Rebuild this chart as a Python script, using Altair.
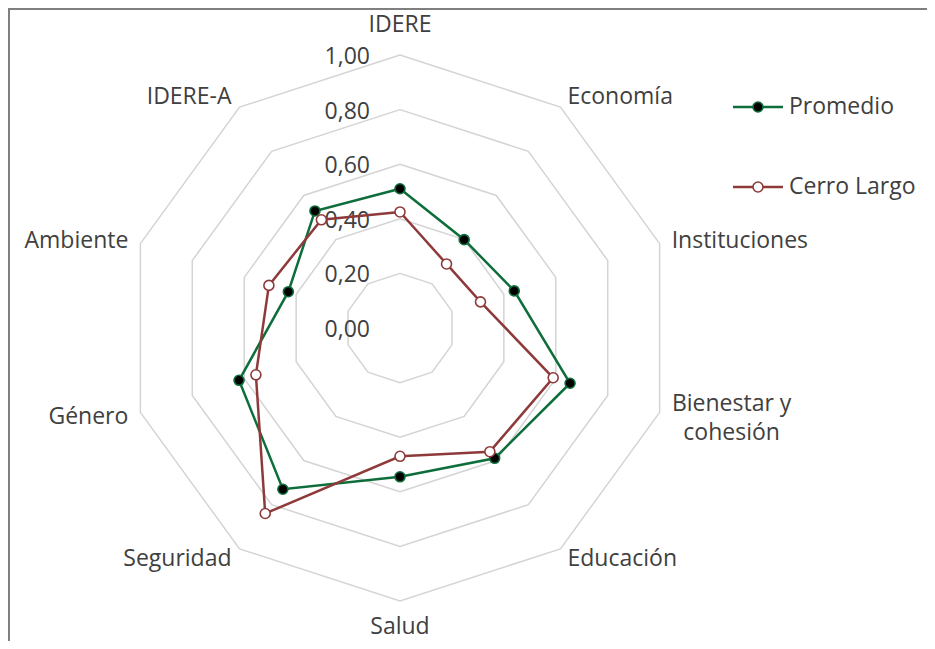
import math
import altair as alt
import pandas as pd

# ---------------- data ----------------
categories = ["IDERE", "Economía", "Instituciones", "Bienestar y\ncohesión", "Educación",
              "Salud", "Seguridad", "Género", "Ambiente", "IDERE-A"]
promedio = [0.51, 0.40, 0.44, 0.655, 0.59, 0.545, 0.73, 0.62, 0.43, 0.53]
cerro_largo = [0.425, 0.29, 0.31, 0.59, 0.56, 0.47, 0.84, 0.555, 0.505, 0.49]
series_names = ["Promedio", "Cerro Largo"]
tick_values = [0.0, 0.2, 0.4, 0.6, 0.8, 1.0]
tick_labels = ["0,00", "0,20", "0,40", "0,60", "0,80", "1,00"]

# ---------------- layout ----------------
W, H = 919, 633            # chart = plot area (autosize none, padding 0)
CX, CY, R = 392, 320, 273  # centre and radius (px) of the radar
GREEN = "#0E6E3B"
RED = "#8E3A3A"
GRID = "#D4D4D4"
TXT = "#404040"
FONT = "Open Sans"
FS = 23

n = len(categories)
ang = [2 * math.pi * i / n for i in range(n)]

rows = []
for s, vals in zip(series_names, [promedio, cerro_largo]):
    for k in range(n + 1):
        i = k % n
        rows.append({"Serie": s, "Indicador": categories[i], "k": k, "valor": vals[i],
                     "x": vals[i] * math.sin(ang[i]), "y": vals[i] * math.cos(ang[i])})
series_df = pd.DataFrame(rows)

grid_rows = []
for lv in tick_values[1:]:
    for k in range(n + 1):
        i = k % n
        grid_rows.append({"level": lv, "k": k,
                          "x": lv * math.sin(ang[i]), "y": lv * math.cos(ang[i])})
grid_df = pd.DataFrame(grid_rows)

tick_df = pd.DataFrame({"v": tick_values, "label": tick_labels, "x0": [0.0] * len(tick_values)})

# category label anchors (offsets in px from the outer vertex)
lab_rows = []
for i, c in enumerate(categories):
    s, co = math.sin(ang[i]), math.cos(ang[i])
    if abs(s) < 0.1:
        align, dxp, dyp = "center", 0, (-30 if co > 0 else 26)
    elif abs(s) < 0.7:
        align, dxp, dyp = ("left" if s > 0 else "right"), (7 if s > 0 else -8), -co * 12
    else:
        align, dxp, dyp = ("left" if s > 0 else "right"), (12 if s > 0 else -12), -co * 11 + 1
    if "\n" in c:
        align, dxp, dyp = "center", 72, -8
    lab_rows.append({"cat": c, "align": align,
                     "x": s + dxp / R, "y": co - dyp / R})
lab_df = pd.DataFrame(lab_rows)

xs = alt.Scale(domain=[-CX / R, (W - CX) / R], nice=False, zero=False)
ys = alt.Scale(domain=[-(H - CY) / R, CY / R], nice=False, zero=False)
X = lambda f="x": alt.X(f"{f}:Q", scale=xs, axis=None)
Y = lambda f="y": alt.Y(f"{f}:Q", scale=ys, axis=None)

colors = {"Promedio": (GREEN, "#000000"), "Cerro Largo": (RED, "#FFFFFF")}

grid = alt.Chart(grid_df).mark_line(color=GRID, strokeWidth=1.5).encode(
    x=X(), y=Y(), detail="level:N", order="k:Q")

ticks = alt.Chart(tick_df).mark_text(align="right", baseline="middle", dx=-30, dy=2,
                                     font=FONT, fontSize=FS, color=TXT).encode(
    x=X("x0"), y=Y("v"), text="label:N")

labels = []
for a in ["left", "center", "right"]:
    labels.append(
        alt.Chart(lab_df).transform_filter(alt.datum.align == a).mark_text(
            align=a, baseline="middle", font=FONT, fontSize=FS, color=TXT,
            lineBreak="\n", lineHeight=29).encode(x=X(), y=Y(), text="cat:N"))

series_layers = []
legend_layers = []
LX0, LX1, LY0, LDY = 725, 775, 99, 80   # legend placement (px)
for j, s in enumerate(series_names):
    stroke_c, fill_c = colors[s]
    d = series_df[series_df["Serie"] == s]
    series_layers.append(
        alt.Chart(d).mark_line(strokeWidth=2.5, color=stroke_c).encode(
            x=X(), y=Y(), order="k:Q"))
    series_layers.append(
        alt.Chart(d[d["k"] < n]).mark_point(filled=True, size=100, strokeWidth=1.6, opacity=1,
                                            fill=fill_c, stroke=stroke_c).encode(
            x=X(), y=Y(), tooltip=["Serie:N", "Indicador:N", "valor:Q"]))
    ld = pd.DataFrame({"Serie": [s]})
    ly = LY0 + j * LDY
    legend_layers.append(
        alt.Chart(ld).mark_rule(strokeWidth=2.5, color=stroke_c).encode(
            x=alt.value(LX0), x2=alt.value(LX1), y=alt.value(ly)))
    legend_layers.append(
        alt.Chart(ld).mark_point(filled=True, size=100, strokeWidth=1.6, opacity=1,
                                 fill=fill_c, stroke=stroke_c).encode(
            x=alt.value((LX0 + LX1) / 2), y=alt.value(ly)))
    legend_layers.append(
        alt.Chart(ld).mark_text(align="left", baseline="middle", font=FONT, fontSize=FS,
                                color=TXT).encode(
            x=alt.value(LX1 + 6), y=alt.value(ly), text="Serie:N"))

frame = [
    alt.Chart(tick_df).mark_rule(color="#7F7F7F", strokeWidth=1.5).encode(
        x=alt.value(0.75), y=alt.value(0), y2=alt.value(H)),
    alt.Chart(tick_df).mark_rule(color="#7F7F7F", strokeWidth=1.5).encode(
        x=alt.value(0), x2=alt.value(W), y=alt.value(0.75)),
]

chart = alt.layer(grid, ticks, *labels, *series_layers, *legend_layers, *frame).properties(
    width=W, height=H, autosize=alt.AutoSizeParams(type="none"), padding=0,
    background="white"
).configure_view(stroke=None)

chart.save("out.html", embed_options={"renderer": "svg", "actions": False})
